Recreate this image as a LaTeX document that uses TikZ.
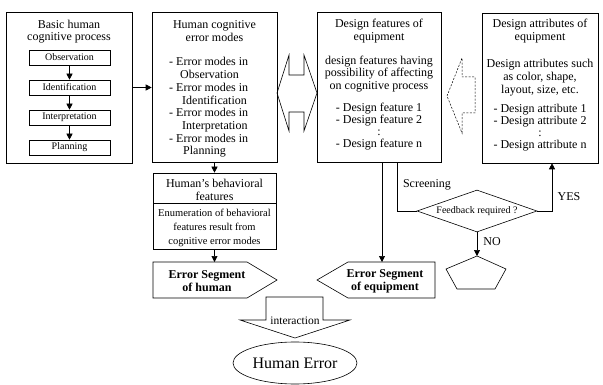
\documentclass[tikz,border=0pt]{standalone}
\usepackage{fontspec}
\setmainfont{Liberation Serif}
\usepackage{tikz}
\usetikzlibrary{positioning,arrows.meta,shapes.geometric}

\tikzset{
  outline/.style={line width=0.6pt},
  box/.style={draw, line width=0.6pt, inner sep=0pt},
  stepbox/.style={draw, line width=0.6pt, minimum width=81pt, minimum height=15pt, inner sep=0pt, font=\fontsize{10}{11}\selectfont},
  flow/.style={-{Triangle[width=6pt,length=6pt]}, line width=0.6pt},
  boxtext/.style={align=center, inner sep=0pt, font=\fontsize{12}{12.7}\selectfont},
  bodytext/.style={align=center, inner sep=0pt, font=\fontsize{10.5}{14}\selectfont},
  segtext/.style={align=center, inner sep=0pt, font=\fontsize{12}{13}\selectfont\bfseries},
  labeltext/.style={inner sep=0pt, font=\fontsize{12}{13}\selectfont},
}

\begin{document}
\begin{tikzpicture}[x=1pt, y=-1pt]
\useasboundingbox (0,0) rectangle (603,385);
% ---- basic cognitive process ----
\node[box, minimum width=126pt, minimum height=151pt] (proc) at (69,87.5) {};
\node[boxtext] (proctitle) at (69,31.5) {Basic human\\cognitive process};
\node[stepbox] (obs) at (69.5,57.5) {Observation};
\node[stepbox] (ident) at (69.5,87.5) {Identification};
\node[stepbox] (interp) at (69.5,117.5) {Interpretation};
\node[stepbox] (plan) at (69.5,147.5) {Planning};
\draw[flow] (obs) -- (ident);
\draw[flow] (ident) -- (interp);
\draw[flow] (interp) -- (plan);
% ---- cognitive error modes ----
\node[box, minimum width=125pt, minimum height=150pt] (modes) at (214.5,87.5) {};
\node[boxtext] (modestitle) at (214.5,31) {Human cognitive\\error modes};
\node[boxtext, align=left, anchor=west] (modeslist) at (169,107.5)
  {- Error modes in\\\hspace*{11pt}Observation\\- Error modes in\\\hspace*{13pt}Identification\\%
   - Error modes in\\\hspace*{13pt}Interpretation\\- Error modes in\\\hspace*{14pt}Planning};
\draw[flow] (proc) -- (modes);
% double arrow between modes and features
\draw[outline] (277,93) -- (289,55) -- (289,75) -- (304,75) -- (304,55) -- (317,93)
  -- (304,131) -- (304,112) -- (289,112) -- (289,131) -- cycle;
% ---- design features ----
\node[box, minimum width=124pt, minimum height=150pt] (feat) at (379,87.5) {};
\node[boxtext] (feattitle) at (379,31) {Design features of\\equipment};
\node[boxtext] (featdesc) at (379,74) {design features having\\possibility of affecting\\on cognitive process};
\node[boxtext, font=\fontsize{12}{12.2}\selectfont] (featlist) at (379,126.5)
  {- Design feature 1\\- Design feature 2\\:\\- Design feature n};
% dashed arrow back from attributes
\draw[outline, line width=0.5pt, dash pattern=on 2pt off 1.5pt]
  (447,96) -- (462,58) -- (462,77) -- (475,77) -- (475,113) -- (462,113) -- (462,133) -- cycle;
% ---- design attributes ----
\node[box, minimum width=116pt, minimum height=150pt] (attr) at (540,88) {};
\node[boxtext] (attrtitle) at (540,31) {Design attributes of\\equipment};
\node[boxtext] (attrdesc) at (540,77.5) {Design attributes such\\as color, shape,\\layout, size, etc.};
\node[boxtext, font=\fontsize{12}{11.8}\selectfont] (attrlist) at (540,127.5)
  {- Design attribute 1\\- Design attribute 2\\:\\- Design attribute n};
% ---- behavioral features ----
\node[box, minimum width=123pt, minimum height=76pt] (behav) at (214.5,211) {};
\node[boxtext] (behavtitle) at (214.5,190) {Human's behavioral\\features};
\draw[outline] (153,203) -- (276,203);
\node[bodytext] (behavbody) at (214.5,228) {Enumeration of behavioral\\features result from\\cognitive error modes};
\draw[flow] (modes) -- (behav);
% ---- error segments ----
\draw[outline] (153,262) -- (247,262) -- (277,280) -- (247,298) -- (153,298) -- cycle;
\node[segtext] (seghum) at (207,281.5) {Error Segment\\of human};
\coordinate (humtop) at (214.5,262);
\draw[flow] (behav) -- (humtop);
\draw[outline] (317,280) -- (348,262) -- (435,262) -- (435,298) -- (348,298) -- cycle;
\node[segtext] (segequ) at (385,281.5) {Error Segment\\of equipment};
\coordinate (equtop) at (382,262);
\draw[flow] (feat.south -| equtop) -- (equtop);
% ---- screening and feedback ----
\node[diamond, draw, line width=0.6pt, minimum width=120pt, minimum height=42pt, shape aspect=2.86,
  inner sep=0pt, font=\fontsize{10}{11}\selectfont] (fb) at (477,211) {Feedback required ?};
\coordinate (scrx) at (397,0);
\draw[outline] (feat.south -| scrx) |- (fb.west);
\node[labeltext] (scrlabel) at (427,185) {Screening};
\coordinate (yescol) at (552,0);
\draw[flow] (fb.east) -| (attr.south -| yescol);
\node[labeltext] (yes) at (569,197) {YES};
\coordinate (penttop) at (477,256);
\draw[flow] (fb.south) -- (penttop);
\node[labeltext] (no) at (492,242) {NO};
\draw[outline] (penttop) -- (506,269) -- (495,289) -- (457,289) -- (446,269) -- cycle;
% ---- interaction and human error ----
\draw[outline] (266,297) -- (323,297) -- (323,320) -- (350,320) -- (295,338) -- (240,320) -- (266,320) -- cycle;
\node[labeltext, font=\fontsize{11.5}{12}\selectfont] (inter) at (295,321) {interaction};
\node[ellipse, draw, line width=0.6pt, minimum width=124pt, minimum height=42pt, inner sep=0pt,
  font=\fontsize{16}{16}\selectfont] (humerr) at (295,363) {Human Error};
\end{tikzpicture}
\end{document}
